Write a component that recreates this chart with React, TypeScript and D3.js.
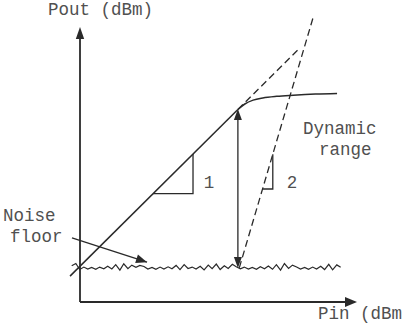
import React from "react";
import * as d3 from "d3";

// ---- data (dBm) ----
const gainDb = 13;
const linPinSolid = [-103.6, -43];
const linPinDashed = [-43, -21];
const compPin = [-43, -40.5, -37.5, -34, -29, -23, -15, -7.2];
const compPout = [-30, -28.0, -26.6, -25.8, -25.2, -24.8, -24.4, -24.2];
const im3Pin = [-42.5, -15.8];
const im3Pout = [-87.6, 3.6];
const noiseFloor = -87.6;
const noisePin = [
  -103.0, -101.5, -100.1, -98.6, -97.2, -95.8, -94.3, -92.9, -91.4, -90.0,
  -88.5, -87.1, -85.6, -84.2, -82.7, -81.3, -79.8, -78.4, -76.9, -75.5,
  -74.0, -72.6, -71.1, -69.7, -68.2, -66.8, -65.3, -63.9, -62.4, -61.0,
  -59.5, -58.1, -56.6, -55.2, -53.7, -52.3, -50.8, -49.4, -47.9, -46.5,
  -45.0, -43.6, -42.1, -40.7, -39.2, -37.8, -36.3, -34.9, -33.4, -32.0,
  -30.5, -29.1, -27.6, -26.2, -24.7, -23.3, -21.8, -20.4, -18.9, -17.5,
  -16.0, -14.6, -13.1, -11.7, -10.2, -8.8, -7.3, -5.9,
];
const noiseDev = [
  0.8, 1.6, -0.6, 0.3, -0.4, 0.2, -0.5, 0.3, -0.3, 0.6,
  -0.4, 1.2, -0.8, 1.5, -0.3, 1.0, 0.2, 0.9, 0.5, -0.4,
  0.2, -0.5, 0.3, -0.4, 0.4, -0.3, 0.9, -0.6, 1.2, -0.2,
  0.3, -0.4, 0.6, -0.7, 1.0, -0.3, 1.4, -0.6, 0.8, -0.2,
  1.3, 0.4, -0.3, 0.3, -0.4, 0.2, -0.5, 0.4, -0.3, 0.7,
  -0.5, 1.2, -0.8, 1.6, -0.2, 1.0, 0.3, -0.4, 0.2, -0.5,
  0.3, -0.4, 0.6, -0.6, 1.3, -0.7, 1.1, 0.2,
];
const slope1Pin = [-73.6, -59.2];
const slope2Pin = [-34.1, -30.4];
const rangePin = -43;
const rangeTop = -29.8;
const noiseArrowFrom = [-102.9, -76.7];
const noiseArrowTo = [-75.8, -85.5];

const W = 402;
const H = 325;
const x = d3.scaleLinear().domain([-100, 0]).range([80, 357]);
const y = d3.scaleLinear().domain([-100, 0]).range([302, 27]);

const INK = "#2a2a2a";
const TXT = "#505050";
const FONT = "'Liberation Mono', 'DejaVu Sans Mono', monospace";

function arrowHead(tx: number, ty: number, fx: number, fy: number, len = 11, half = 4) {
  const a = Math.atan2(ty - fy, tx - fx);
  const bx = tx - len * Math.cos(a);
  const by = ty - len * Math.sin(a);
  const px = -Math.sin(a) * half;
  const py = Math.cos(a) * half;
  return `M${tx},${ty}L${bx + px},${by + py}L${bx - px},${by - py}Z`;
}

export default function App() {
  const line = d3.line<[number, number]>().x((d) => x(d[0])).y((d) => y(d[1]));
  const lin = (pins: number[]) => line(pins.map((p) => [p, p + gainDb] as [number, number]))!;
  const comp = d3
    .line<[number, number]>()
    .x((d) => x(d[0]))
    .y((d) => y(d[1]))
    .curve(d3.curveMonotoneX)(compPin.map((p, i) => [p, compPout[i]] as [number, number]))!;
  const im3 = line(im3Pin.map((p, i) => [p, im3Pout[i]] as [number, number]))!;
  const n = Math.min(noisePin.length, noiseDev.length);
  const noise = line(
    noisePin.slice(0, n).map((p, i) => [p, noiseFloor + noiseDev[i]] as [number, number])
  )!;

  const im3At = (p: number) =>
    im3Pout[0] + ((im3Pout[1] - im3Pout[0]) / (im3Pin[1] - im3Pin[0])) * (p - im3Pin[0]);

  const t1 = `M${x(slope1Pin[0])},${y(slope1Pin[0] + gainDb)}H${x(slope1Pin[1])}V${y(slope1Pin[1] + gainDb)}`;
  const t2 = `M${x(slope2Pin[0])},${y(im3At(slope2Pin[0]))}H${x(slope2Pin[1])}V${y(im3At(slope2Pin[1]))}`;

  const ax = x(rangePin);
  const ayTop = y(rangeTop);
  const ayBot = y(noiseFloor);

  const nfx = x(noiseArrowFrom[0]);
  const nfy = y(noiseArrowFrom[1]);
  const ntx = x(noiseArrowTo[0]);
  const nty = y(noiseArrowTo[1]);

  const x0 = x(-100);
  const y0 = y(-100);
  const xTip = x(0);
  const yTip = y(0);

  return (
    <svg
      width={W}
      height={H}
      style={{ position: "absolute", left: 0, top: 0, background: "#fff" }}
    >
      {/* axes */}
      <line x1={x0} y1={y0} x2={x0} y2={yTip + 10} stroke={INK} strokeWidth={1.8} />
      <path d={arrowHead(x0, yTip, x0, y0, 12, 4.2)} fill={INK} />
      <line x1={x0} y1={y0} x2={xTip - 10} y2={y0} stroke={INK} strokeWidth={1.8} />
      <path d={arrowHead(xTip, y0, x0, y0, 12, 5)} fill={INK} />

      {/* noise floor */}
      <path d={noise} fill="none" stroke={INK} strokeWidth={1.2} strokeLinejoin="miter" />

      {/* linear response */}
      <path d={lin(linPinSolid)} fill="none" stroke={INK} strokeWidth={1.5} />
      <path d={lin(linPinDashed)} fill="none" stroke={INK} strokeWidth={1.3} strokeDasharray="7,4" />
      {/* compression */}
      <path d={comp} fill="none" stroke={INK} strokeWidth={1.5} />
      {/* third order */}
      <path d={im3} fill="none" stroke={INK} strokeWidth={1.3} strokeDasharray="7,4" />

      {/* slope triangles */}
      <path d={t1} fill="none" stroke={INK} strokeWidth={1.3} />
      <path d={t2} fill="none" stroke={INK} strokeWidth={1.3} />

      {/* dynamic range arrow */}
      <line x1={ax} y1={ayTop + 9} x2={ax} y2={ayBot - 9} stroke={INK} strokeWidth={1.3} />
      <path d={arrowHead(ax, ayTop, ax, ayBot, 11, 4)} fill={INK} />
      <path d={arrowHead(ax, ayBot, ax, ayTop, 11, 4)} fill={INK} />

      {/* noise floor pointer */}
      <line x1={nfx} y1={nfy} x2={ntx} y2={nty} stroke={INK} strokeWidth={1.3} />
      <path d={arrowHead(ntx, nty, nfx, nfy, 11, 4.5)} fill={INK} />

      {/* labels */}
      <g fontFamily={FONT} fontSize={17.5} fill={TXT}>
        <text x={48} y={15}>Pout (dBm)</text>
        <text x={318} y={319}>Pin (dBm)</text>
        <text x={3} y={221}>Noise</text>
        <text x={10} y={242}>floor</text>
        <text x={303} y={134}>Dynamic</text>
        <text x={319} y={155}>range</text>
        <text x={209} y={188} textAnchor="middle">1</text>
        <text x={292} y={188} textAnchor="middle">2</text>
      </g>
    </svg>
  );
}
